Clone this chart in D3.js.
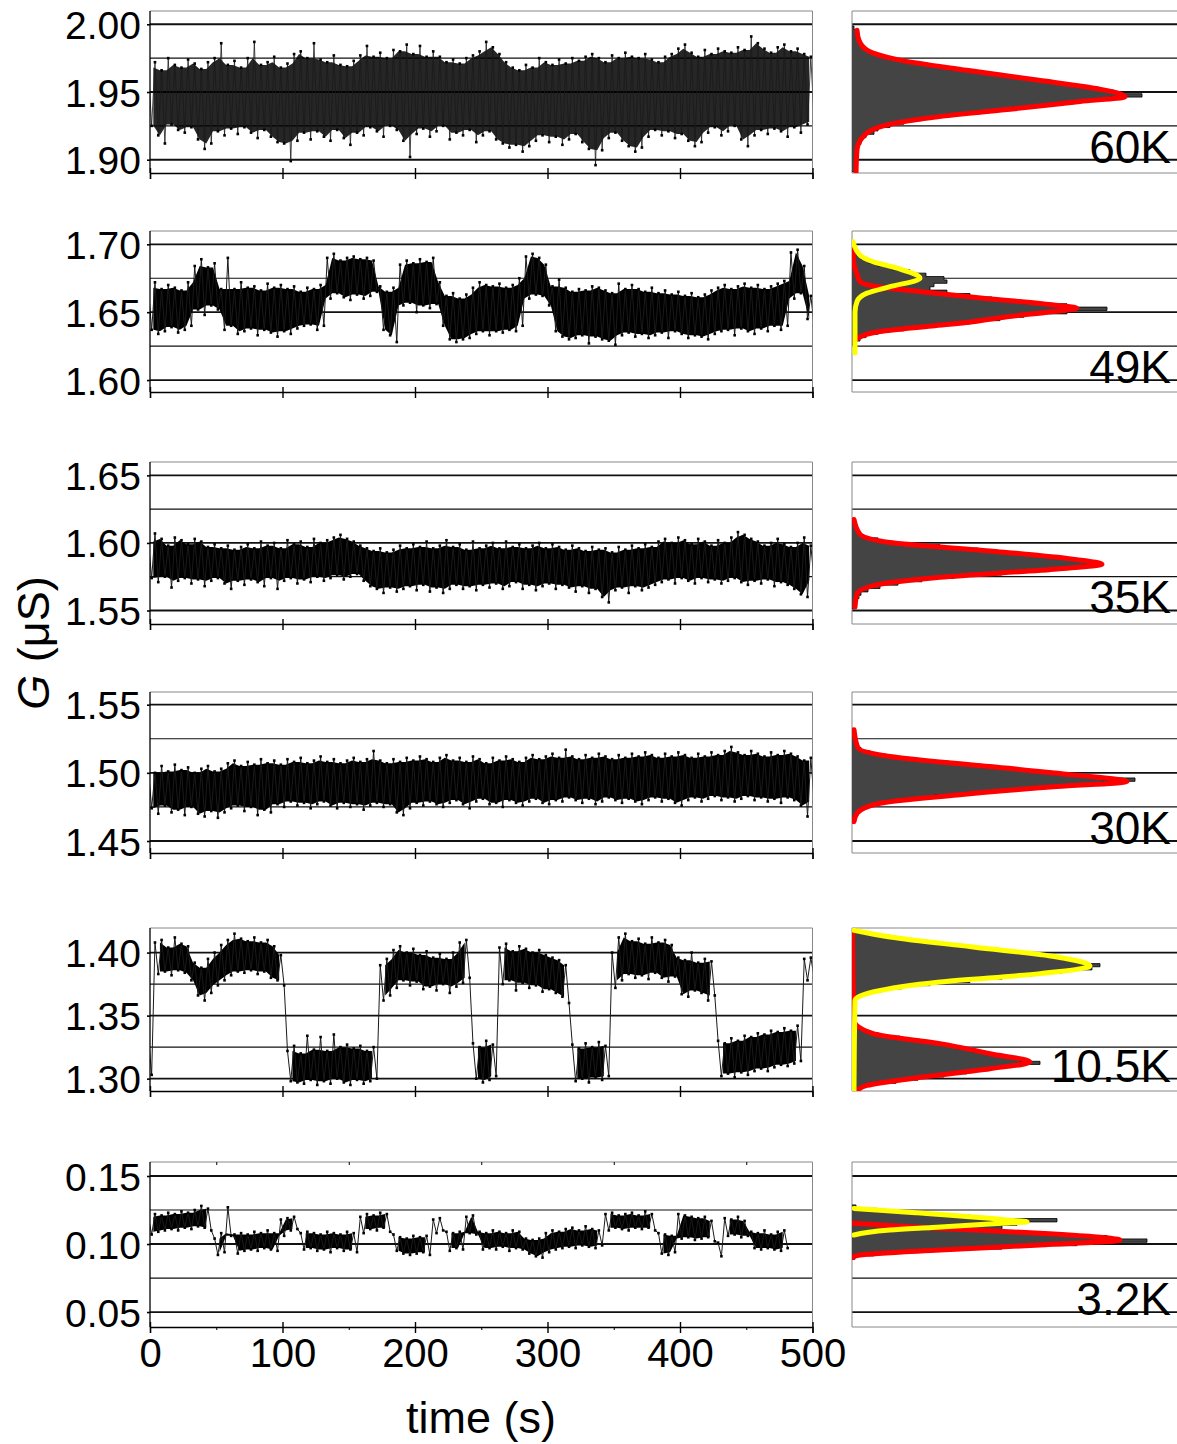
<!DOCTYPE html>
<html lang="en">
<head>
<meta charset="UTF-8" />
<title>G vs time traces and histograms</title>
<script src="https://cdn.jsdelivr.net/npm/d3@7"></script>
<style>
  body { margin: 0; background: #fff; }
  svg { display: block; }
  text { font-family: "Liberation Sans", Arial, Helvetica, sans-serif; fill: #000; }
</style>
</head>
<body>
<div id="chart"></div>
<script>
// ---- data ----
const temps = ["60K", "49K", "35K", "30K", "10.5K", "3.2K"];
const timeGrid = d3.range(0, 501, 5); // one envelope sample every 5 s
const timeTicks = [0, 100, 200, 300, 400, 500];
const timeMinor = [50, 150, 250, 350, 450];

// y axis limits and labelled ticks for each row (µS)
const yDomains = [[1.8902, 2.0098], [1.5912, 1.7098], [1.540, 1.6599], [1.4412, 1.5593], [1.2902, 1.4195], [0.039, 0.1603]];
const yLabels = [[1.90, 1.95, 2.00], [1.60, 1.65, 1.70], [1.55, 1.60, 1.65], [1.45, 1.50, 1.55], [1.30, 1.35, 1.40], [0.05, 0.10, 0.15]];

// trace envelopes (upper / lower excursion in each 5 s window)
const hi60 = [1.968,1.972,1.966,1.975,1.970,1.968,1.974,1.971,1.967,1.972,
  1.975,1.986,1.970,1.973,1.968,1.975,1.987,1.970,1.972,1.976,
  1.968,1.971,1.978,1.980,1.975,1.986,1.974,1.972,1.977,1.970,
  1.969,1.973,1.977,1.984,1.976,1.979,1.975,1.981,1.980,1.985,
  1.978,1.984,1.976,1.980,1.976,1.972,1.974,1.971,1.975,1.977,
  1.980,1.987,1.983,1.978,1.972,1.968,1.966,1.970,1.968,1.975,
  1.972,1.970,1.974,1.971,1.975,1.973,1.976,1.978,1.975,1.972,
  1.977,1.975,1.979,1.976,1.975,1.978,1.974,1.972,1.976,1.978,
  1.982,1.985,1.979,1.976,1.981,1.978,1.982,1.980,1.979,1.983,
  1.981,1.991,1.986,1.982,1.979,1.983,1.985,1.980,1.982,1.978,1.976];
const lo60 = [1.925,1.918,1.912,1.926,1.922,1.920,1.924,1.915,1.908,1.912,
  1.921,1.918,1.923,1.919,1.924,1.920,1.916,1.922,1.917,1.913,
  1.912,1.899,1.914,1.920,1.915,1.921,1.917,1.914,1.922,1.916,
  1.911,1.920,1.918,1.924,1.921,1.917,1.925,1.922,1.914,1.902,
  1.919,1.923,1.917,1.921,1.925,1.915,1.920,1.918,1.922,1.913,
  1.918,1.921,1.915,1.912,1.909,1.911,1.906,1.910,1.914,1.918,
  1.913,1.917,1.911,1.915,1.919,1.913,1.908,1.896,1.907,1.916,
  1.920,1.914,1.910,1.906,1.909,1.917,1.922,1.918,1.921,1.916,
  1.919,1.914,1.910,1.913,1.920,1.924,1.918,1.921,1.925,1.915,
  1.910,1.918,1.922,1.919,1.923,1.921,1.917,1.924,1.920,1.926,1.928];

const hi49 = [1.668,1.672,1.667,1.670,1.668,1.666,1.672,1.684,1.689,1.683,
  1.686,1.667,1.690,1.667,1.672,1.668,1.669,1.666,1.671,1.668,
  1.670,1.667,1.669,1.665,1.668,1.667,1.670,1.690,1.693,1.688,
  1.690,1.691,1.689,1.690,1.688,1.669,1.665,1.668,1.685,1.688,
  1.686,1.689,1.687,1.690,1.672,1.662,1.664,1.660,1.663,1.668,
  1.672,1.670,1.669,1.671,1.668,1.670,1.675,1.691,1.693,1.690,
  1.685,1.669,1.674,1.668,1.665,1.667,1.666,1.669,1.668,1.666,
  1.664,1.671,1.667,1.670,1.667,1.665,1.668,1.664,1.666,1.663,
  1.665,1.662,1.664,1.661,1.663,1.666,1.668,1.670,1.667,1.669,
  1.671,1.668,1.670,1.667,1.669,1.671,1.673,1.694,1.696,1.684,1.662];
const lo49 = [1.637,1.634,1.636,1.639,1.635,1.637,1.640,1.652,1.648,1.655,
  1.652,1.637,1.640,1.634,1.636,1.638,1.633,1.637,1.635,1.632,
  1.636,1.634,1.638,1.640,1.641,1.637,1.640,1.660,1.664,1.661,
  1.659,1.663,1.660,1.662,1.665,1.637,1.633,1.628,1.655,1.657,
  1.650,1.655,1.653,1.656,1.640,1.630,1.628,1.630,1.631,1.634,
  1.636,1.633,1.636,1.635,1.637,1.636,1.640,1.660,1.663,1.662,
  1.655,1.636,1.632,1.630,1.631,1.633,1.627,1.632,1.630,1.629,
  1.626,1.633,1.635,1.632,1.634,1.631,1.633,1.635,1.631,1.636,
  1.634,1.631,1.633,1.632,1.630,1.634,1.636,1.637,1.633,1.638,
  1.636,1.634,1.638,1.636,1.640,1.637,1.640,1.660,1.664,1.645,1.640];

const hi35 = [1.601,1.607,1.603,1.598,1.604,1.602,1.599,1.603,1.601,1.597,
  1.599,1.596,1.598,1.595,1.597,1.599,1.596,1.601,1.598,1.600,
  1.596,1.602,1.599,1.601,1.597,1.603,1.600,1.602,1.604,1.606,
  1.603,1.601,1.598,1.596,1.594,1.596,1.593,1.595,1.598,1.596,
  1.599,1.597,1.601,1.596,1.598,1.602,1.597,1.599,1.595,1.601,
  1.596,1.598,1.600,1.596,1.601,1.597,1.599,1.596,1.598,1.600,
  1.596,1.599,1.597,1.595,1.598,1.596,1.594,1.597,1.595,1.596,
  1.593,1.597,1.595,1.598,1.596,1.599,1.597,1.601,1.603,1.600,
  1.604,1.602,1.599,1.603,1.601,1.598,1.602,1.600,1.604,1.608,
  1.606,1.603,1.601,1.598,1.600,1.603,1.599,1.597,1.600,1.604,1.598];
const lo35 = [1.574,1.571,1.575,1.567,1.572,1.574,1.570,1.573,1.568,1.572,
  1.574,1.570,1.566,1.572,1.569,1.573,1.571,1.568,1.574,1.566,
  1.572,1.574,1.570,1.573,1.571,1.575,1.572,1.574,1.576,1.573,
  1.575,1.577,1.572,1.568,1.566,1.563,1.567,1.564,1.566,1.568,
  1.565,1.569,1.564,1.567,1.563,1.566,1.569,1.566,1.568,1.565,
  1.569,1.567,1.570,1.566,1.568,1.571,1.566,1.569,1.565,1.568,
  1.570,1.566,1.569,1.567,1.564,1.568,1.563,1.566,1.560,1.556,
  1.565,1.567,1.563,1.568,1.565,1.567,1.569,1.571,1.573,1.570,
  1.574,1.572,1.570,1.574,1.571,1.573,1.570,1.572,1.574,1.571,
  1.569,1.572,1.570,1.573,1.568,1.571,1.569,1.566,1.562,1.560,1.572];

const hi30 = [1.503,1.500,1.505,1.501,1.506,1.502,1.504,1.500,1.503,1.505,
  1.501,1.503,1.507,1.509,1.505,1.508,1.506,1.510,1.507,1.509,
  1.506,1.510,1.508,1.511,1.507,1.509,1.512,1.508,1.510,1.507,
  1.509,1.511,1.508,1.510,1.516,1.509,1.507,1.510,1.508,1.511,
  1.509,1.512,1.510,1.508,1.511,1.513,1.509,1.511,1.508,1.512,
  1.510,1.507,1.511,1.509,1.512,1.510,1.508,1.511,1.513,1.510,
  1.512,1.514,1.511,1.517,1.512,1.510,1.513,1.511,1.514,1.512,
  1.510,1.513,1.511,1.514,1.512,1.515,1.513,1.511,1.514,1.512,
  1.515,1.513,1.511,1.514,1.512,1.515,1.513,1.516,1.519,1.515,
  1.513,1.516,1.514,1.512,1.515,1.513,1.516,1.514,1.512,1.509,1.511];
const lo30 = [1.474,1.470,1.476,1.471,1.473,1.469,1.475,1.470,1.468,1.472,
  1.467,1.471,1.474,1.476,1.472,1.475,1.469,1.473,1.471,1.477,
  1.475,1.479,1.476,1.478,1.474,1.477,1.479,1.476,1.474,1.478,
  1.475,1.477,1.473,1.476,1.478,1.475,1.477,1.471,1.469,1.474,
  1.478,1.476,1.479,1.477,1.475,1.478,1.480,1.477,1.474,1.479,
  1.481,1.477,1.478,1.475,1.480,1.478,1.476,1.479,1.481,1.478,
  1.477,1.480,1.479,1.482,1.480,1.478,1.481,1.477,1.479,1.482,
  1.480,1.478,1.481,1.479,1.477,1.480,1.482,1.479,1.481,1.478,
  1.476,1.480,1.482,1.479,1.481,1.483,1.480,1.482,1.479,1.481,
  1.483,1.480,1.482,1.479,1.481,1.478,1.482,1.480,1.476,1.468,1.479];

const hi10 = [1.334,1.408,1.410,1.404,1.412,1.407,1.405,1.392,1.388,1.395,
  1.400,1.406,1.410,1.415,1.411,1.409,1.412,1.408,1.410,1.405,
  1.398,1.322,1.326,1.320,1.334,1.323,1.333,1.322,1.335,1.325,
  1.327,1.324,1.326,1.322,1.325,1.390,1.395,1.402,1.405,1.400,
  1.403,1.398,1.401,1.396,1.399,1.395,1.400,1.408,1.410,1.328,
  1.325,1.330,1.327,1.404,1.407,1.401,1.405,1.403,1.400,1.402,
  1.398,1.396,1.394,1.390,1.327,1.324,1.328,1.325,1.329,1.326,
  1.400,1.412,1.415,1.409,1.411,1.407,1.412,1.408,1.410,1.406,
  1.396,1.394,1.400,1.392,1.395,1.393,1.330,1.328,1.332,1.330,
  1.334,1.333,1.336,1.335,1.338,1.337,1.340,1.338,1.342,1.395,1.396];
const lo10 = [1.303,1.383,1.385,1.382,1.386,1.384,1.378,1.366,1.362,1.368,
  1.374,1.378,1.382,1.385,1.384,1.386,1.383,1.385,1.380,1.378,
  1.374,1.298,1.297,1.296,1.299,1.295,1.298,1.296,1.300,1.297,
  1.295,1.299,1.296,1.298,1.300,1.362,1.366,1.372,1.378,1.374,
  1.377,1.371,1.373,1.370,1.375,1.368,1.373,1.376,1.380,1.300,
  1.297,1.299,1.302,1.375,1.378,1.370,1.376,1.372,1.374,1.369,
  1.371,1.368,1.365,1.360,1.298,1.300,1.297,1.301,1.299,1.302,
  1.372,1.378,1.383,1.380,1.382,1.379,1.384,1.380,1.377,1.381,
  1.367,1.365,1.370,1.368,1.362,1.366,1.302,1.304,1.301,1.305,
  1.303,1.306,1.308,1.306,1.309,1.311,1.310,1.312,1.314,1.378,1.380];

const hi3 = [0.120,0.122,0.121,0.123,0.122,0.124,0.123,0.125,0.128,0.126,
  0.104,0.108,0.127,0.107,0.108,0.107,0.109,0.108,0.110,0.108,
  0.118,0.119,0.120,0.108,0.109,0.108,0.107,0.109,0.108,0.107,
  0.109,0.108,0.120,0.122,0.121,0.123,0.122,0.107,0.105,0.104,
  0.106,0.105,0.106,0.118,0.119,0.109,0.108,0.109,0.120,0.121,
  0.109,0.108,0.110,0.109,0.108,0.110,0.109,0.104,0.103,0.104,
  0.108,0.110,0.109,0.111,0.112,0.110,0.113,0.111,0.110,0.122,
  0.123,0.121,0.122,0.123,0.121,0.124,0.122,0.108,0.107,0.106,
  0.122,0.121,0.120,0.119,0.120,0.117,0.101,0.119,0.118,0.120,
  0.117,0.109,0.108,0.110,0.107,0.109,0.110,null,null,null,null];
const lo3 = [0.107,0.109,0.110,0.111,0.110,0.112,0.111,0.113,0.112,0.110,
  0.092,0.094,0.106,0.093,0.095,0.096,0.095,0.097,0.096,0.095,
  0.106,0.110,0.111,0.096,0.097,0.095,0.096,0.094,0.097,0.095,
  0.096,0.094,0.108,0.111,0.110,0.112,0.109,0.095,0.093,0.092,
  0.093,0.094,0.092,0.108,0.110,0.095,0.097,0.096,0.108,0.107,
  0.096,0.097,0.096,0.098,0.095,0.097,0.096,0.093,0.091,0.090,
  0.094,0.096,0.097,0.098,0.097,0.099,0.098,0.097,0.099,0.110,
  0.112,0.111,0.110,0.112,0.111,0.112,0.110,0.093,0.092,0.094,
  0.104,0.105,0.103,0.104,0.105,0.102,0.091,0.106,0.107,0.105,
  0.106,0.097,0.096,0.097,0.096,0.095,0.097,null,null,null,null];

// histograms: first bin centre, bin width 0.0025 µS, counts (arb. units)
const histBin = 0.0025;
const histStart = [1.8925, 1.6275, 1.5525, 1.465, 1.2925, 0.090];
const hist60 = [3,4,3,5,4,6,5,7,9,8,14,22,26,38,52,70,95,128,160,192,222,258,290,262,246,222,196,172,150,124,98,76,54,38,26,17,12,9,7,6,4,5,2];
const hist49 = [3,8,14,26,52,84,118,148,172,215,255,215,170,140,118,95,78,82,95,92,74,58,40,26,16,9,5,3,2];
const hist35 = [3,4,5,7,9,16,28,46,70,102,150,198,232,245,225,195,165,126,88,42,26,12,6,4,3,2];
const hist30 = [3,4,6,9,16,28,50,82,122,165,205,250,283,238,200,165,130,96,62,34,18,9,6,4,3,2,2];
const hist10 = [9,20,44,66,92,115,135,160,188,168,150,135,120,104,88,68,48,27,14,7,4,2,1,1,1,1,2,2,4,8,15,30,50,78,118,150,180,210,240,248,230,212,190,165,145,112,85,60,38,18,5];
const hist3 = [3,22,75,150,225,295,255,195,150,150,165,205,118,65,25,4];

// fitted peaks, sampled as [G, counts]
const red60 = [[1.890,4],[1.9074,5],[1.917,11],[1.9243,28],[1.931,78],[1.937,155],[1.943,228],[1.9465,273],[1.9493,265],[1.9537,235],[1.9588,185],[1.966,115],[1.9735,48],[1.9809,15],[1.988,7],[1.9956,5]];
const red49 = [[1.629,3],[1.631,6],[1.6357,28],[1.6398,80],[1.643,121],[1.6466,155],[1.650,195],[1.6529,225],[1.6554,200],[1.6603,131],[1.6651,69],[1.6676,37],[1.6725,8],[1.678,5],[1.685,2],[1.6958,1]];
const yellow49 = [[1.620,3],[1.650,3],[1.6578,5],[1.664,15],[1.6688,38],[1.675,68],[1.6824,45],[1.6872,21],[1.692,8],[1.702,1]];
const red35 = [[1.5525,3],[1.5623,5],[1.5684,21],[1.5746,88],[1.5807,205],[1.5843,250],[1.588,221],[1.5941,138],[1.6003,38],[1.6064,8],[1.6174,2]];
const red30 = [[1.4642,2],[1.4704,5],[1.4777,28],[1.4838,105],[1.490,205],[1.4936,275],[1.4985,221],[1.5046,138],[1.512,38],[1.5182,6],[1.5316,2]];
const red10 = [[1.2907,5],[1.2946,15],[1.3013,71],[1.3079,138],[1.3132,178],[1.3198,138],[1.3278,88],[1.3357,21],[1.3463,2],[1.4195,0.5]];
const yellow10 = [[1.2907,2],[1.3621,3],[1.3687,21],[1.3767,88],[1.3833,188],[1.3894,238],[1.3965,205],[1.4044,121],[1.4124,38],[1.4177,2]];
const red3 = [[0.0902,0.5],[0.0919,8],[0.0956,88],[0.0993,188],[0.1029,268],[0.1054,241],[0.1079,188],[0.1115,88],[0.1152,0.5]];
const yellow3 = [[0.1066,2],[0.1085,15],[0.1103,38],[0.1122,80],[0.114,121],[0.1152,150],[0.1164,175],[0.1175,158],[0.1189,138],[0.1207,105],[0.1226,71],[0.1244,35],[0.1262,2]];

const rows = [
  { hi: hi60, lo: lo60, hist: hist60, red: red60, yellow: null },
  { hi: hi49, lo: lo49, hist: hist49, red: red49, yellow: yellow49 },
  { hi: hi35, lo: lo35, hist: hist35, red: red35, yellow: null },
  { hi: hi30, lo: lo30, hist: hist30, red: red30, yellow: null },
  { hi: hi10, lo: lo10, hist: hist10, red: red10, yellow: yellow10 },
  { hi: hi3, lo: lo3, hist: hist3, red: red3, yellow: yellow3 },
].map((r, k) => ({ ...r, label: temps[k], domain: yDomains[k], ticks: yLabels[k], start: histStart[k] }));

// ---- layout ----
const panelTop = [11, 231, 462, 692, 928, 1162];
const panelBottom = [173, 392, 624, 853, 1091, 1327];
const coreAlpha = [0.85, 1, 1, 1, 1, 1];

const svg = d3.select("#chart").append("svg").attr("width", 1177).attr("height", 1444);
const defs = svg.append("defs");

const x = d3.scaleLinear().domain([0, 500]).range([150, 812.5]);
const hx = d3.scaleLinear().domain([0, 325]).range([852, 1177]);
const fmt = d3.format(".2f");
const isMajor = (v) => Math.abs(v * 20 - Math.round(v * 20)) < 1e-6;

rows.forEach((r, k) => {
  const top = panelTop[k], bottom = panelBottom[k];
  const y = d3.scaleLinear().domain(r.domain).range([bottom, top]);
  const grid = d3.range(r.ticks[0], r.ticks[2] + 1e-6, 0.025);
  const g = svg.append("g");

  defs.append("clipPath").attr("id", "cl" + k).append("rect")
    .attr("x", x(0)).attr("y", top).attr("width", x(500) - x(0)).attr("height", bottom - top);
  defs.append("clipPath").attr("id", "cr" + k).append("rect")
    .attr("x", hx(0)).attr("y", top).attr("width", 1177 - hx(0)).attr("height", bottom - top);

  // grid lines, both panels
  [[x(0), x(500)], [hx(0), 1177]].forEach(([a, b]) => {
    g.append("g").selectAll("line").data(grid).join("line")
      .attr("x1", a).attr("x2", b)
      .attr("y1", (d) => y(d)).attr("y2", (d) => y(d))
      .attr("stroke", "#111")
      .attr("stroke-width", (d) => (isMajor(d) ? 1.8 : 1.2));
  });

  // frames
  g.append("path").attr("fill", "none").attr("stroke", "#888").attr("stroke-width", 1)
    .attr("d", `M${x(0)},${top}H${x(500)}V${bottom}`);
  g.append("path").attr("fill", "none").attr("stroke", "#888").attr("stroke-width", 1)
    .attr("d", `M1177,${top}H${hx(0)}V${bottom}H1177`);

  // time trace: min/max zigzag + dense core
  const tr = g.append("g").attr("clip-path", `url(#cl${k})`);
  const core = [];
  const pts = [];
  timeGrid.forEach((t, i) => {
    if (r.hi[i] == null) return;
    pts.push([t - 1.25, r.hi[i]], [t + 1.25, r.lo[i]]);
    if (i + 1 < timeGrid.length && r.hi[i + 1] != null) {
      core.push([t + 2.5, Math.min(r.hi[i], r.hi[i + 1]), Math.max(r.lo[i], r.lo[i + 1])]);
    } else {
      core.push(null);
    }
  });
  tr.append("path")
    .datum(core)
    .attr("fill", "#000").attr("fill-opacity", coreAlpha[k])
    .attr("d", d3.area()
      .defined((d) => d && d[1] > d[2])
      .x((d) => x(d[0])).y0((d) => y(d[2])).y1((d) => y(d[1])));
  tr.append("path")
    .datum(pts)
    .attr("fill", "none").attr("stroke", "#1a1a1a").attr("stroke-width", k === 0 ? 0.8 : 1)
    .attr("d", d3.line().x((d) => x(d[0])).y((d) => y(d[1])));
  tr.append("g").selectAll("rect").data(pts).join("rect")
    .attr("x", (d) => x(d[0]) - 1.3).attr("y", (d) => y(d[1]) - 1.3)
    .attr("width", 2.6).attr("height", 2.6).attr("fill", "#000");

  // left axis
  const ya = g.append("g").attr("transform", `translate(${x(0)},0)`)
    .call(d3.axisLeft(y).tickValues(r.ticks).tickFormat(fmt).tickSize(3).tickPadding(6));
  ya.select(".domain").attr("stroke", "#000").attr("stroke-width", 1.3)
    .attr("d", `M0,${top}V${bottom}`);
  ya.selectAll(".tick line").attr("stroke-width", 1.6);
  ya.selectAll("text").style("font-size", "39px").attr("dy", "0.36em");

  // bottom time axis
  const xa = g.append("g").attr("transform", `translate(0,${bottom})`)
    .call(d3.axisBottom(x).tickValues(timeTicks).tickSizeOuter(0).tickSize(6)
      .tickFormat(k === rows.length - 1 ? d3.format("d") : () => ""));
  xa.select(".domain").attr("stroke-width", 1.3);
  xa.selectAll(".tick line").attr("y1", -5).attr("y2", 6).attr("stroke-width", 1.4);
  xa.selectAll("text").style("font-size", "40px").attr("dy", 0).attr("y", 40);
  if (k === rows.length - 1) {
    g.append("g").attr("transform", `translate(0,${bottom})`)
      .call(d3.axisBottom(x).tickValues(timeMinor).tickSize(3).tickFormat(() => ""))
      .select(".domain").remove();
    g.append("g").attr("transform", `translate(0,${top})`)
      .call(d3.axisBottom(x).tickValues(timeMinor).tickSize(3).tickFormat(() => ""))
      .select(".domain").remove();
  }

  // histogram (one stepped outline) + fits
  const hp = g.append("g").attr("clip-path", `url(#cr${k})`);
  const bins = r.hist.map((c, i) => ({ g: r.start + i * histBin, c }));
  const outline = [[0, bins[0].g - histBin / 2]];
  bins.forEach((d) => { outline.push([d.c, d.g - histBin / 2], [d.c, d.g + histBin / 2]); });
  outline.push([0, bins[bins.length - 1].g + histBin / 2]);
  hp.append("path").datum(outline)
    .attr("fill", "#444").attr("stroke", "#000").attr("stroke-width", 0.8)
    .attr("d", d3.line().x((d) => hx(d[0])).y((d) => y(d[1])));

  const fit = d3.line().x((d) => hx(d[1])).y((d) => y(d[0])).curve(d3.curveMonotoneY);
  [[r.red, "#ff0000"], [r.yellow, "#ffff00"]].forEach(([data, col]) => {
    if (!data) return;
    hp.append("path").datum(data)
      .attr("fill", "none").attr("stroke", col).attr("stroke-width", 5)
      .attr("stroke-linecap", "round").attr("stroke-linejoin", "round")
      .attr("d", fit);
  });

  g.append("text")
    .attr("x", 1171).attr("y", y(r.ticks[0]) + 3)
    .attr("text-anchor", "end")
    .style("font-size", "46px")
    .text(r.label);
});

// axis titles
svg.append("text")
  .attr("x", 481).attr("y", 1433)
  .attr("text-anchor", "middle")
  .style("font-size", "45px")
  .text("time (s)");

const yt = svg.append("text")
  .attr("transform", "translate(49,643) rotate(-90)")
  .attr("text-anchor", "middle")
  .style("font-size", "45px");
yt.append("tspan").style("font-style", "italic").text("G");
yt.append("tspan").text(" (\u03BCS)");
</script>
</body>
</html>
